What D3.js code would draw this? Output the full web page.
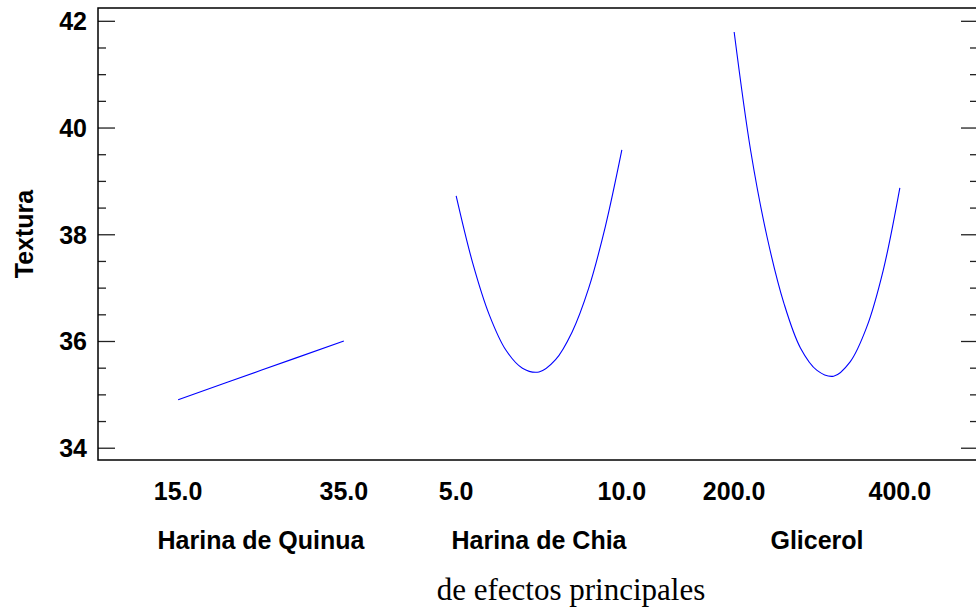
<!DOCTYPE html>
<meta charset="utf-8">
<style>
  body { margin: 0; background: #fff; }
  .lbl { font-family: "Liberation Sans", Arial, sans-serif; font-weight: bold; fill: #000; }
</style>
<body>
<script src="https://cdn.jsdelivr.net/npm/d3@7"></script>
<script>

// factor names and their low/high levels
var factors = ["Harina de Quinua", "Harina de Chia", "Glicerol"];
var lowLevels = [15.0, 5.0, 200.0];
var highLevels = [35.0, 10.0, 400.0];

var quinuaLevels = [15, 25, 35];
var quinuaTextura = [34.90, 35.45, 36.00];

var chiaLevels = [5.0, 5.5, 6.0, 6.5, 7.0, 7.5, 8.0, 8.5, 9.0, 9.5, 10.0];
var chiaTextura = [38.72, 37.46, 36.49, 35.83, 35.49, 35.42, 35.65, 36.17, 36.99, 38.14, 39.58];

var glicerolLevels = [200, 220, 240, 260, 280, 300, 320, 340, 360, 380, 400];
var glicerolTextura = [41.79, 39.56, 37.93, 36.71, 35.87, 35.45, 35.34, 35.61, 36.26, 37.33, 38.87];

var yTicks = [34, 36, 38, 40, 42];

var series = [
  {levels: quinuaLevels, values: quinuaTextura},
  {levels: chiaLevels, values: chiaTextura},
  {levels: glicerolLevels, values: glicerolTextura}
];

var W = 976, H = 612;
var margin = {left: 98, right: 978, top: 8, bottom: 460};
var fontSize = "25px";

var svg = d3.select("body").append("svg")
  .attr("width", W)
  .attr("height", H);

var y = d3.scaleLinear().domain([33.77, 42.24]).range([margin.bottom, margin.top]);

// one band per factor, each factor gets its own linear scale inside the band
var band = d3.scaleBand().domain(factors).range([122, 956]);
var half = band.bandwidth() * 0.298;
function xScale(i) {
  var c = band(factors[i]) + band.bandwidth() / 2;
  return d3.scaleLinear().domain([lowLevels[i], highLevels[i]]).range([c - half, c + half]);
}

// minor tick values (every 0.5, skipping the majors)
var minor = d3.range(34, 42.01, 0.5).filter(function(v) { return v % 2 != 0; });

// left axis: major ticks with labels, pointing inward
var gl = svg.append("g").attr("transform", "translate(" + margin.left + ",0)")
  .call(d3.axisLeft(y).tickValues(yTicks).tickSizeInner(-17).tickSizeOuter(0).tickPadding(11).tickFormat(d3.format("d")));
gl.select(".domain").remove();
gl.selectAll("text").attr("dy", "0.36em")
  .style("font-family", "'Liberation Sans', Arial, sans-serif")
  .style("font-weight", "bold")
  .style("font-size", fontSize)
  .attr("fill", "#000");
var glm = svg.append("g").attr("transform", "translate(" + margin.left + ",0)")
  .call(d3.axisLeft(y).tickValues(minor).tickSizeInner(-8).tickSizeOuter(0).tickFormat(""));
glm.select(".domain").remove();

// right axis: same ticks, inward, no labels
var gr = svg.append("g").attr("transform", "translate(" + margin.right + ",0)")
  .call(d3.axisRight(y).tickValues(yTicks).tickSizeInner(-17).tickSizeOuter(0).tickFormat(""));
gr.select(".domain").remove();
var grm = svg.append("g").attr("transform", "translate(" + margin.right + ",0)")
  .call(d3.axisRight(y).tickValues(minor).tickSizeInner(-8).tickSizeOuter(0).tickFormat(""));
grm.select(".domain").remove();

svg.selectAll(".tick line").attr("stroke", "#222").attr("stroke-width", 1.3);

// frame
svg.append("rect")
  .attr("x", margin.left).attr("y", margin.top)
  .attr("width", margin.right - margin.left).attr("height", margin.bottom - margin.top)
  .attr("fill", "none").attr("stroke", "#000").attr("stroke-width", 1.5);

// response curves
var line = d3.line().curve(d3.curveCatmullRom.alpha(0.5));
series.forEach(function(s, i) {
  var xs = xScale(i);
  var pts = s.levels.map(function(l, j) { return [xs(l), y(s.values[j])]; });
  svg.append("path")
    .attr("d", line(pts))
    .attr("fill", "none")
    .attr("stroke", "#0000ff")
    .attr("stroke-width", 1.1);

  // low / high level labels under the frame
  [lowLevels[i], highLevels[i]].forEach(function(v) {
    svg.append("text")
      .attr("class", "lbl")
      .attr("x", xs(v))
      .attr("y", 500)
      .attr("text-anchor", "middle")
      .style("font-size", fontSize)
      .text(d3.format(".1f")(v));
  });

  svg.append("text")
    .attr("class", "lbl")
    .attr("x", band(factors[i]) + band.bandwidth() / 2)
    .attr("y", 549)
    .attr("text-anchor", "middle")
    .style("font-size", fontSize)
    .text(factors[i]);
});

// y axis title
svg.append("text")
  .attr("class", "lbl")
  .attr("transform", "translate(33,234) rotate(-90)")
  .attr("text-anchor", "middle")
  .style("font-size", fontSize)
  .text("Textura");

// chart title (bottom)
svg.append("text")
  .attr("x", 571)
  .attr("y", 600)
  .attr("text-anchor", "middle")
  .style("font-family", "'Liberation Serif', 'Times New Roman', serif")
  .style("font-size", "31px")
  .attr("fill", "#000")
  .text("de efectos principales");

</script>
</body>
